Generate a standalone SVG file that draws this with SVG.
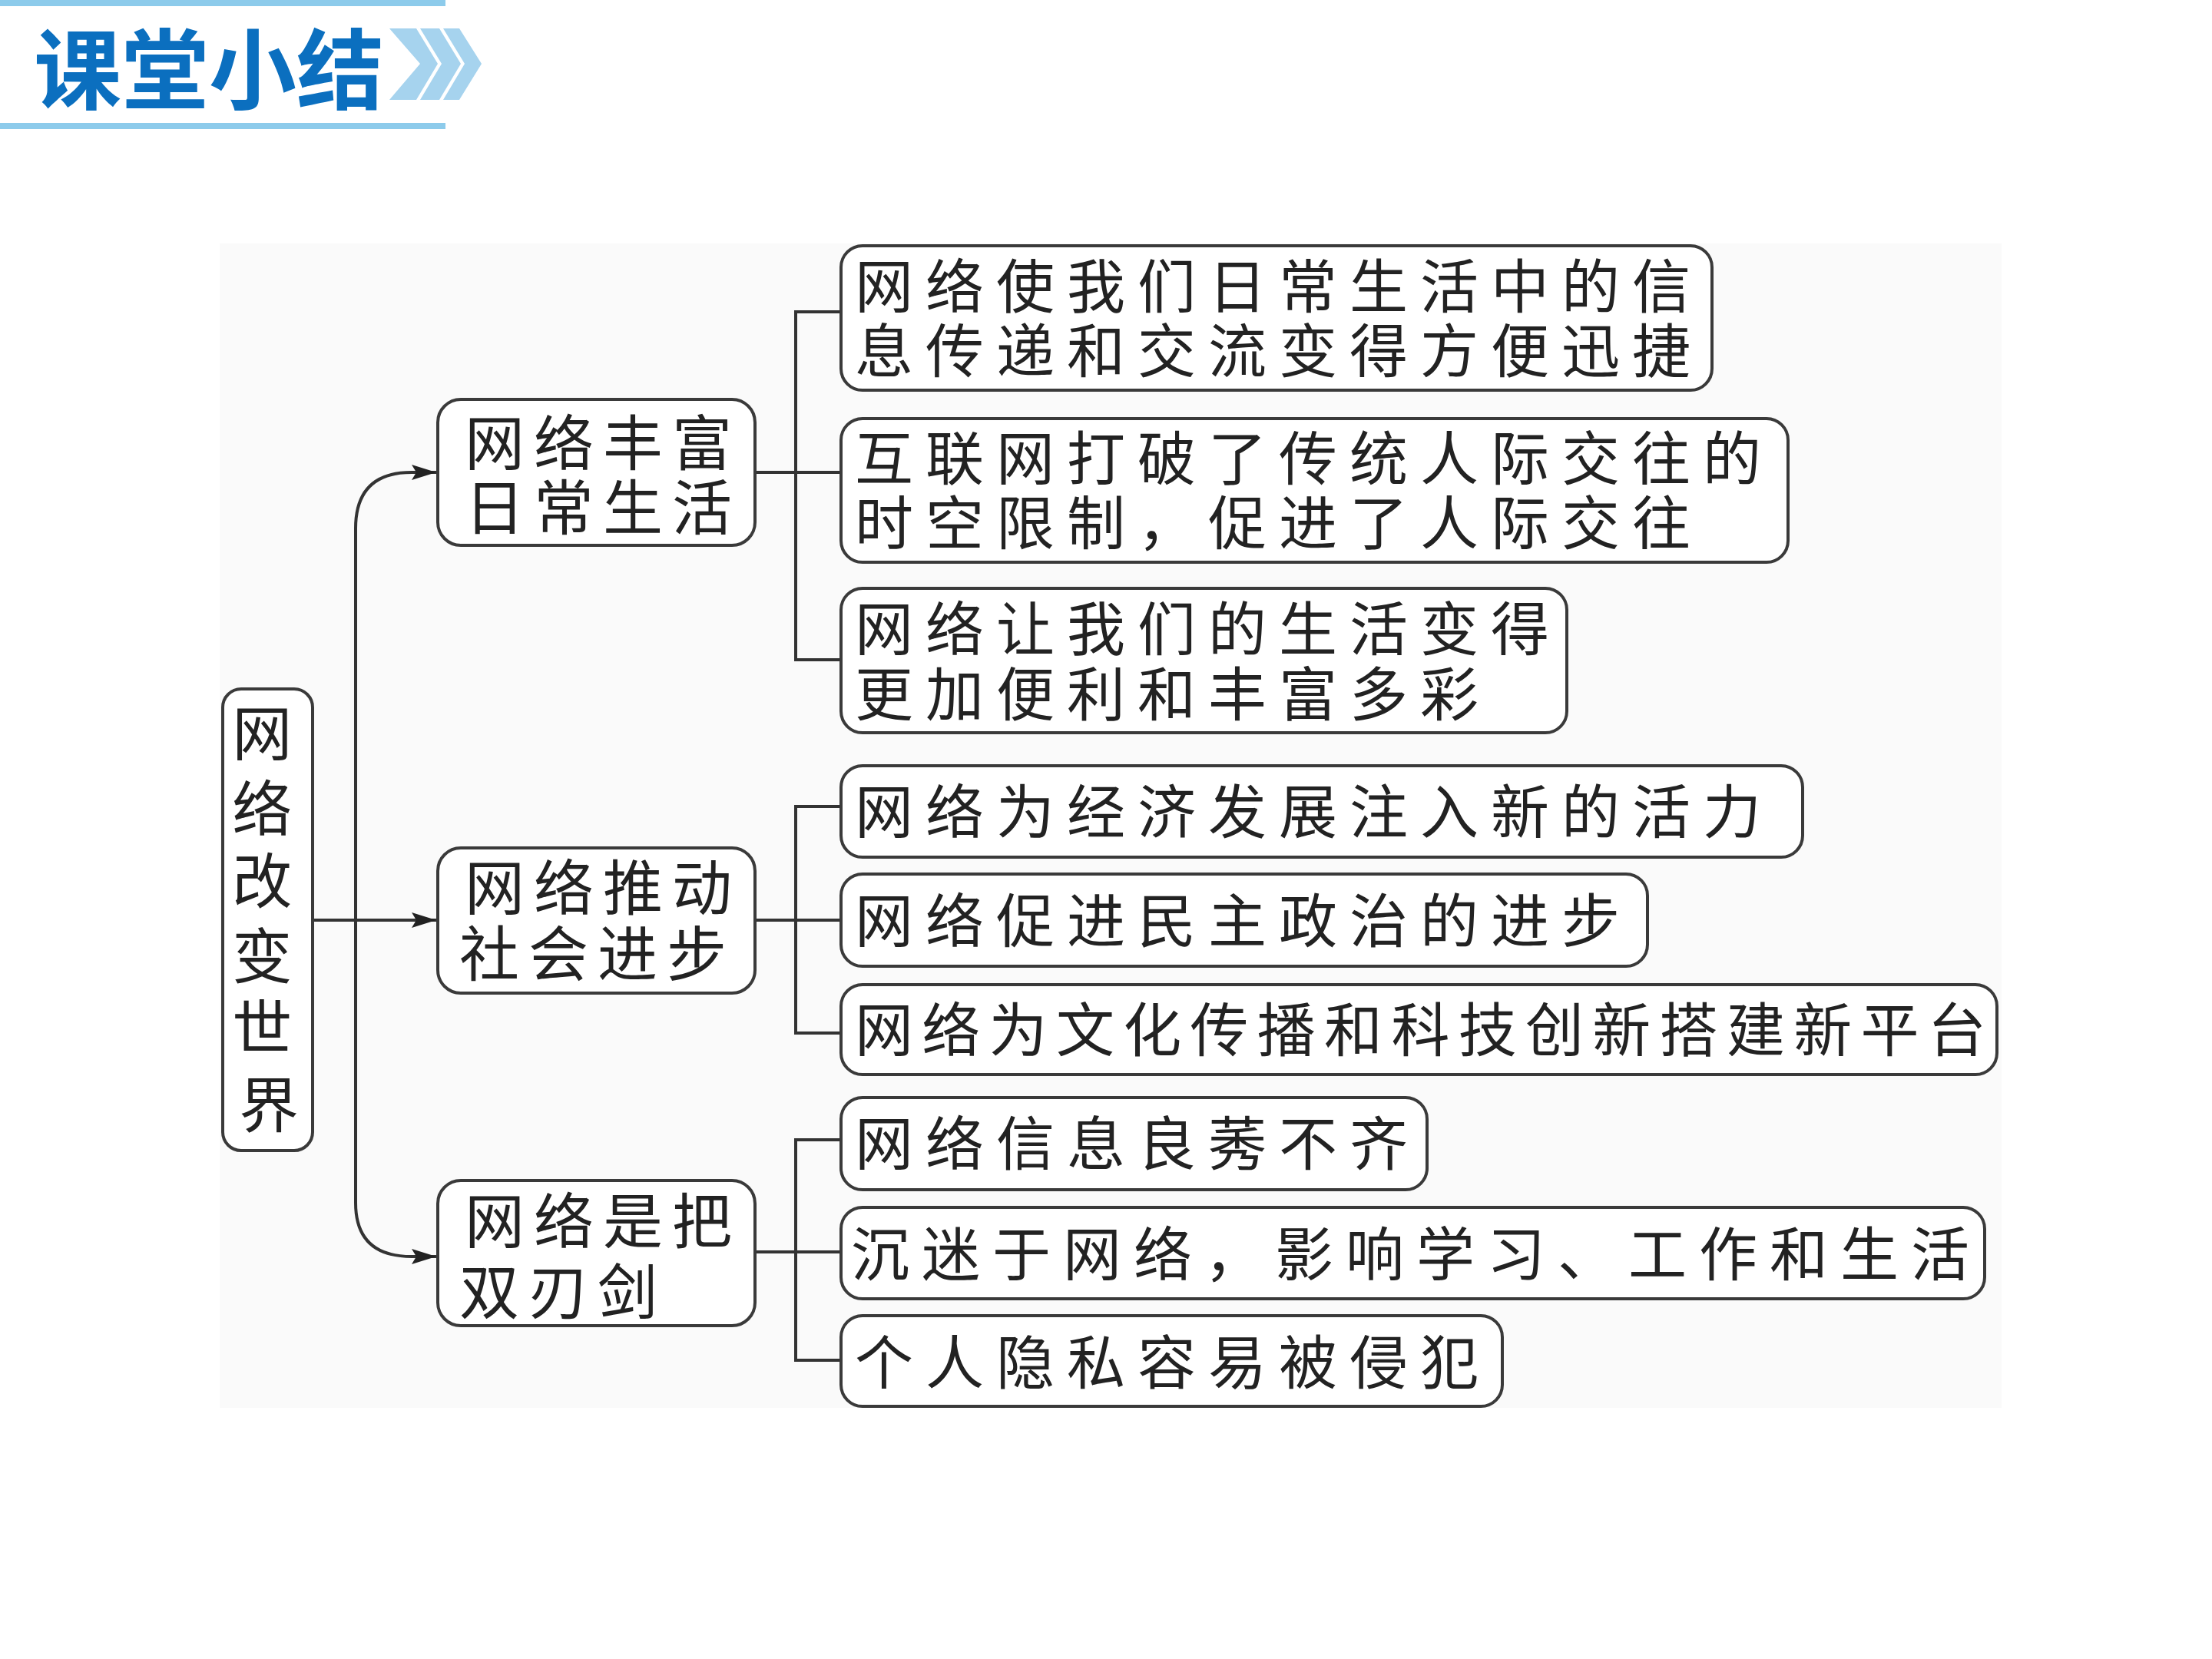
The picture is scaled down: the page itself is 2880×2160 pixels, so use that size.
<svg xmlns="http://www.w3.org/2000/svg" width="2880" height="2160" viewBox="0 0 2880 2160">
  <style>
    .box { fill: #ffffff; stroke: #3a3a3a; stroke-width: 4; }
    .conn { fill: none; stroke: #333333; stroke-width: 4; }
    .t { font-family: "Noto Sans CJK SC", "Noto Sans", sans-serif; fill: #222222; }
    .t3 { font-size: 76px; letter-spacing: 16px; }
    .t2 { font-size: 78px; letter-spacing: 12px; }
    .t1 { font-size: 78px; text-anchor: middle; }
    .title { font-family: "Noto Sans CJK SC", "Noto Sans", sans-serif; font-weight: 700; font-size: 114px; fill: #0b6fbf; }
  </style>
  <defs>
    <marker id="arrow" markerUnits="userSpaceOnUse" markerWidth="34" markerHeight="24" refX="32" refY="12" orient="auto">
      <path d="M0,2 L32,12 L0,22 L6,12 Z" fill="#222222"/>
    </marker>
  </defs>

  <rect x="0" y="0" width="2880" height="2160" fill="#ffffff"/>

  <!-- heading banner -->
  <g id="heading">
    <rect x="0" y="0" width="580" height="8" fill="#8dcbeb"/>
    <rect x="0" y="160" width="580" height="8" fill="#8dcbeb"/>
    <text class="title" x="44" y="133">课堂小结</text>
    <g fill="#a6d3ee">
      <polygon points="507,37 542,37 570,83 542,130 507,130 547,83"/>
      <polygon points="547,37 572,37 600,83 572,130 547,130 575,83"/>
      <polygon points="577,37 598,37 627,83 598,130 577,130 605,83"/>
    </g>
  </g>

  <!-- diagram panel -->
  <rect x="286" y="317" width="2320" height="1516" fill="#fafafa"/>

  <!-- connectors -->
  <g id="connectors">
    <path class="conn" d="M407,1198 H568" marker-end="url(#arrow)"/>
    <path class="conn" d="M463,1198 V688 Q463,615 536,615 H568" marker-end="url(#arrow)"/>
    <path class="conn" d="M463,1198 V1566 Q463,1636 536,1636 H568" marker-end="url(#arrow)"/>

    <path class="conn" d="M983,615 H1095"/>
    <path class="conn" d="M1095,406 H1036 V859 H1095"/>

    <path class="conn" d="M983,1198 H1095"/>
    <path class="conn" d="M1095,1050 H1036 V1345 H1095"/>

    <path class="conn" d="M983,1630 H1095"/>
    <path class="conn" d="M1095,1484 H1036 V1771 H1095"/>
  </g>

  <!-- root -->
  <g id="root">
    <rect class="box" x="290" y="897" width="117" height="601" rx="24"/>
    <text class="t t1">
      <tspan x="350" y="984">网</tspan>
      <tspan x="350" y="1082">络</tspan>
      <tspan x="350" y="1176">改</tspan>
      <tspan x="350" y="1274">变</tspan>
      <tspan x="350" y="1367">世</tspan>
      <tspan x="350" y="1468">界</tspan>
    </text>
  </g>

  <!-- second level -->
  <g id="enrich-life">
    <rect class="box" x="570" y="520" width="413" height="190" rx="30"/>
    <text class="t t2"><tspan x="605" y="606">网络丰富</tspan><tspan x="605" y="690">日常生活</tspan></text>
  </g>
  <g id="drive-progress">
    <rect class="box" x="570" y="1104" width="413" height="189" rx="30"/>
    <text class="t t2"><tspan x="605" y="1185">网络推动</tspan><tspan x="598" y="1271">社会进步</tspan></text>
  </g>
  <g id="double-edged">
    <rect class="box" x="570" y="1537" width="413" height="189" rx="30"/>
    <text class="t t2"><tspan x="605" y="1619">网络是把</tspan><tspan x="598" y="1711">双刃剑</tspan></text>
  </g>

  <!-- third level -->
  <g id="leaf-1">
    <rect class="box" x="1095" y="320" width="1134" height="188" rx="28"/>
    <text class="t t3"><tspan x="1113" y="401">网络使我们日常生活中的信</tspan><tspan x="1113" y="485">息传递和交流变得方便迅捷</tspan></text>
  </g>
  <g id="leaf-2">
    <rect class="box" x="1095" y="545" width="1233" height="187" rx="28"/>
    <text class="t t3"><tspan x="1113" y="625">互联网打破了传统人际交往的</tspan><tspan x="1113" y="709">时空限制，促进了人际交往</tspan></text>
  </g>
  <g id="leaf-3">
    <rect class="box" x="1095" y="766" width="945" height="188" rx="28"/>
    <text class="t t3"><tspan x="1113" y="847">网络让我们的生活变得</tspan><tspan x="1113" y="932">更加便利和丰富多彩</tspan></text>
  </g>
  <g id="leaf-4">
    <rect class="box" x="1095" y="997" width="1252" height="119" rx="28"/>
    <text class="t t3" x="1113" y="1085">网络为经济发展注入新的活力</text>
  </g>
  <g id="leaf-5">
    <rect class="box" x="1095" y="1138" width="1050" height="120" rx="28"/>
    <text class="t t3" x="1113" y="1227">网络促进民主政治的进步</text>
  </g>
  <g id="leaf-6">
    <rect class="box" x="1095" y="1282" width="1505" height="117" rx="28"/>
    <text class="t t3" x="1113" y="1369" style="letter-spacing:11.3px">网络为文化传播和科技创新搭建新平台</text>
  </g>
  <g id="leaf-7">
    <rect class="box" x="1095" y="1429" width="763" height="120" rx="28"/>
    <text class="t t3" x="1113" y="1517">网络信息良莠不齐</text>
  </g>
  <g id="leaf-8">
    <rect class="box" x="1095" y="1572" width="1489" height="119" rx="28"/>
    <text class="t t3" x="1108" y="1661">沉迷于网络，影响学习、工作和生活</text>
  </g>
  <g id="leaf-9">
    <rect class="box" x="1095" y="1713" width="861" height="118" rx="28"/>
    <text class="t t3" x="1113" y="1802">个人隐私容易被侵犯</text>
  </g>
</svg>
